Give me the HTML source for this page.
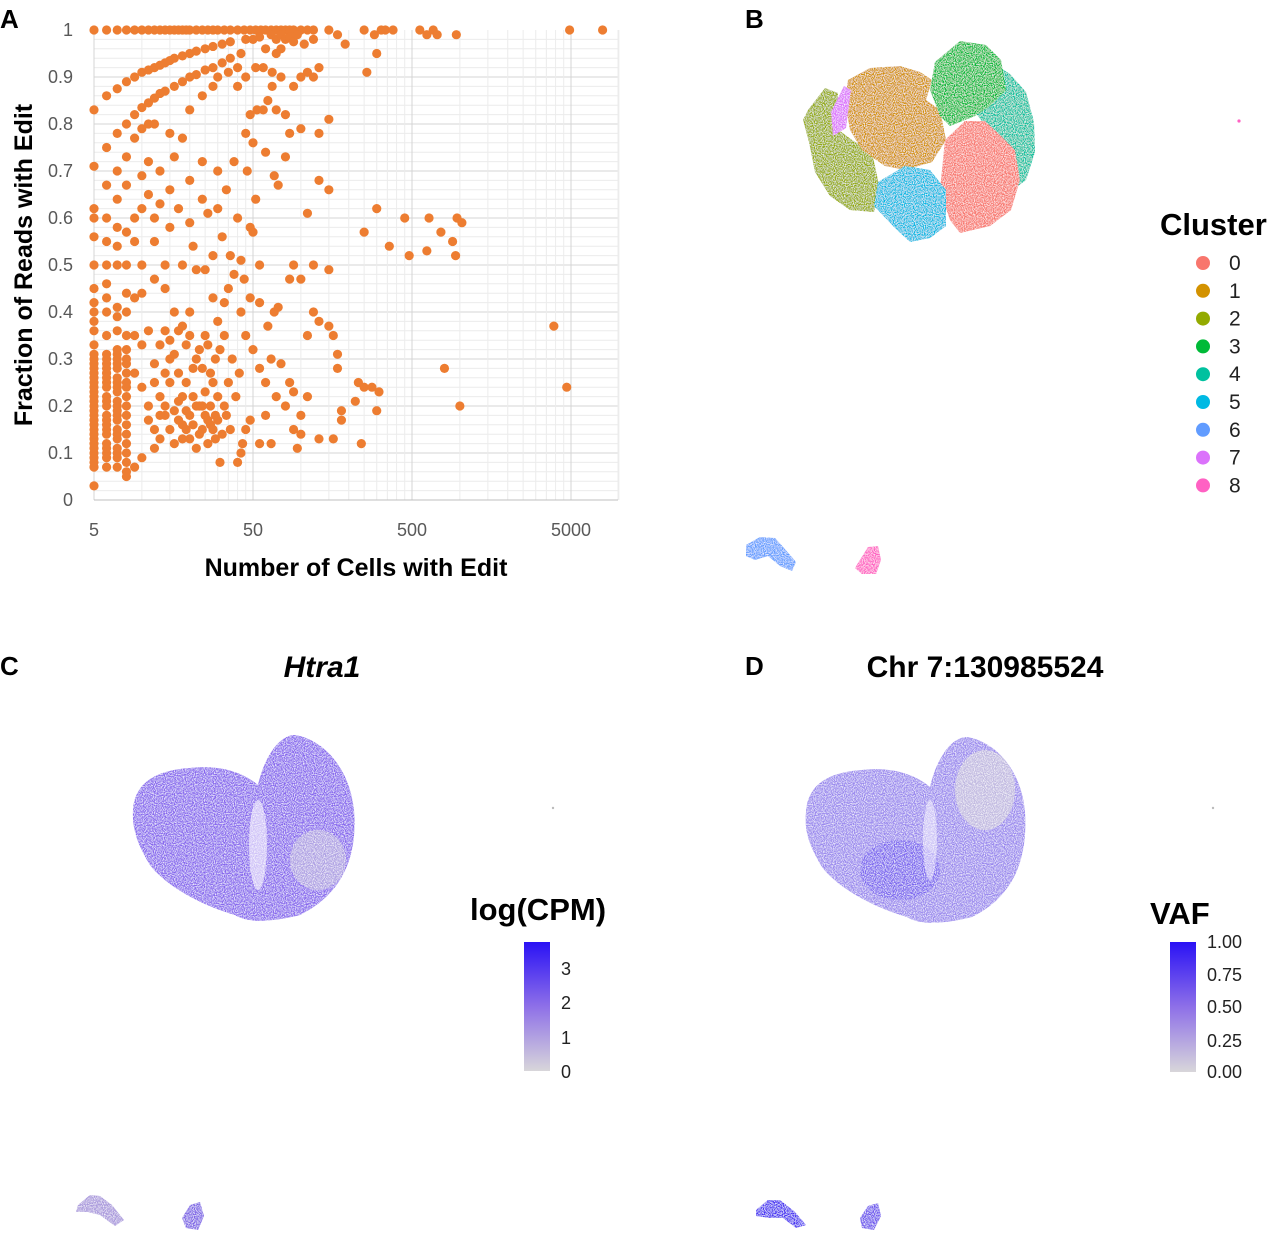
<!DOCTYPE html>
<html><head><meta charset="utf-8">
<style>
html,body{margin:0;padding:0;background:#fff;}
body{width:1280px;height:1238px;position:relative;overflow:hidden;font-family:"Liberation Sans","DejaVu Sans",sans-serif;}
svg{position:absolute;left:0;top:0;}
</style></head>
<body>
<svg id="fig" width="1280" height="1238" viewBox="0 0 1280 1238">
<defs>
<linearGradient id="gradC" x1="0" y1="0" x2="0" y2="1"><stop offset="0" stop-color="#2a12f5"/><stop offset="0.5" stop-color="#8e70e8"/><stop offset="1" stop-color="#d8d6da"/></linearGradient>
<filter id="speck" x="0" y="0" width="100%" height="100%"><feTurbulence type="fractalNoise" baseFrequency="0.9" numOctaves="1" seed="3" result="n"/><feColorMatrix in="n" type="matrix" values="0 0 0 0 1  0 0 0 0 1  0 0 0 0 1  0 0 0 -2.2 1.35" result="m"/><feComposite in="m" in2="SourceGraphic" operator="in" result="w"/><feMerge><feMergeNode in="SourceGraphic"/><feMergeNode in="w"/></feMerge></filter>
</defs>

<!-- Panel A -->
<g id="panelA">
<g id="gridA"></g>
<g id="dotsA"></g>
<g id="ticksA"></g>
<text x="0" y="28" font-size="26" font-weight="bold" fill="#000">A</text>
<text x="356" y="576" font-size="25" font-weight="bold" fill="#000" text-anchor="middle">Number of Cells with Edit</text>
<text transform="translate(32,265) rotate(-90)" font-size="25" font-weight="bold" fill="#000" text-anchor="middle">Fraction of Reads with Edit</text>
</g>

<!-- Panel B -->
<g id="panelB">
<text x="745" y="28" font-size="26" font-weight="bold">B</text>
<g filter="url(#speck)">
<path d="M808,110 L825,88 L838,93 L836,128 L852,140 L872,152 L880,190 L874,212 L850,210 L830,196 L815,172 L809,142 L803,120 Z" fill="#93AA00"/>
<path d="M848,80 L870,68 L900,66 L920,72 L932,80 L926,100 L940,110 L946,140 L932,162 L905,170 L885,166 L862,150 L850,130 L845,100 Z" fill="#D39200"/>
<path d="M831,112 L844,86 L851,90 L846,128 L833,136 Z" fill="#DB72FB"/>
<path d="M988,60 L1010,74 L1026,92 L1034,122 L1035,152 L1026,180 L1010,192 L1000,170 L990,132 L975,112 Z" fill="#00C19F"/>
<path d="M935,62 L960,41 L986,45 L1001,60 L1006,90 L990,106 L975,116 L950,126 L940,116 L930,90 Z" fill="#00BA38"/>
<path d="M945,140 L965,121 L985,121 L1000,135 L1015,150 L1020,180 L1011,210 L990,226 L960,233 L950,220 L940,190 Z" fill="#F8766D"/>
<path d="M878,182 L905,166 L930,170 L946,190 L946,226 L930,238 L910,242 L895,228 L874,206 Z" fill="#00B9E3"/>
<path d="M746,545 L760,537 L775,538 L784,548 L796,562 L792,571 L780,566 L768,556 L755,560 L746,556 Z" fill="#619CFF"/>
<path d="M858,563 L868,547 L878,546 L881,560 L876,574 L862,574 L855,568 Z" fill="#FF61C3"/>
</g>
<circle cx="1239" cy="121" r="1.6" fill="#FF61C3"/>
<text x="1160" y="235" font-size="31" font-weight="bold">Cluster</text>
<g id="legendB"></g>
</g>

<!-- Panel C -->
<g id="panelC">
<text x="0" y="675" font-size="26" font-weight="bold">C</text>
<text x="322" y="677" font-size="30" font-weight="bold" font-style="italic" text-anchor="middle">Htra1</text>
<g filter="url(#speck)">
<path d="M133,810 C135,780 160,770 190,768 C215,765 240,770 258,785 C265,755 280,735 295,735 C325,740 350,770 354,810 C358,860 340,895 300,915 C280,920 250,925 235,915 C200,905 165,885 150,865 C138,845 132,830 133,810 Z" fill="#8766ee"/>
<ellipse cx="318" cy="860" rx="28" ry="30" fill="#b7aee0" opacity="0.8"/>
<ellipse cx="258" cy="845" rx="9" ry="45" fill="#ffffff" opacity="0.6"/>
<path d="M78,1205 L90,1195 L100,1196 L112,1205 L124,1220 L115,1226 L100,1215 L88,1212 L76,1212 Z" fill="#a896dc"/>
<path d="M182,1218 L190,1205 L200,1202 L204,1216 L198,1230 L186,1228 Z" fill="#7d62e6"/>
</g>
<circle cx="553" cy="808" r="1.2" fill="#bbb"/>
<text x="470" y="920" font-size="31" font-weight="bold">log(CPM)</text>
<rect x="524" y="942" width="26" height="129" fill="url(#gradC)"/>
<g font-size="18" fill="#222">
<text x="561" y="975">3</text><text x="561" y="1009">2</text><text x="561" y="1044">1</text><text x="561" y="1078">0</text></g>
</g>

<!-- Panel D -->
<g id="panelD">
<text x="745" y="675" font-size="26" font-weight="bold">D</text>
<text x="985" y="677" font-size="30" font-weight="bold" text-anchor="middle">Chr 7:130985524</text>
<g filter="url(#speck)">
<path d="M806,812 C808,782 832,772 862,770 C887,767 912,772 930,787 C937,757 952,737 967,737 C997,742 1022,772 1025,812 C1028,862 1012,897 972,917 C952,922 922,927 907,917 C872,907 837,887 822,867 C810,847 804,832 806,812 Z" fill="#9a88ee"/>
<ellipse cx="985" cy="790" rx="30" ry="40" fill="#c9c4dc" opacity="0.8"/>
<ellipse cx="900" cy="870" rx="40" ry="30" fill="#5a3ef0" opacity="0.5"/>
<ellipse cx="930" cy="840" rx="7" ry="40" fill="#ffffff" opacity="0.5"/>
<path d="M756,1210 L768,1200 L780,1200 L795,1212 L806,1225 L796,1228 L783,1218 L770,1218 L756,1216 Z" fill="#4a30f2"/>
<path d="M860,1218 L868,1206 L878,1203 L881,1216 L874,1230 L862,1228 Z" fill="#6c52ee"/>
</g>
<circle cx="1213" cy="808" r="1.2" fill="#bbb"/>
<text x="1150" y="924" font-size="31" font-weight="bold">VAF</text>
<rect x="1170" y="942" width="26" height="130" fill="url(#gradC)"/>
<g font-size="18" fill="#222">
<text x="1207" y="948">1.00</text><text x="1207" y="981">0.75</text><text x="1207" y="1013">0.50</text><text x="1207" y="1047">0.25</text><text x="1207" y="1078">0.00</text></g>
</g>
</svg>

<script>
// ---- Panel A data ----
const xTickLabels = ["5","50","500","5000"];
const yTickLabels = ["0","0.1","0.2","0.3","0.4","0.5","0.6","0.7","0.8","0.9","1"];
// scattered points [cells, fraction]
const pointsA = [
[5,1],[6,1],[7,1],[8,1],[9,1],[10,1],[11,1],[12,1],[13,1],[14,1],[15,1],[16,1],[17,1],[18,1],[19,1],[20,1],[22,1],[24,1],[26,1],[28,1],[30,1],[33,1],[36,1],[40,1],[44,1],[48,1],[52,1],[56,1],[60,1],[65,1],[70,1],[75,1],[80,1],[85,1],[90,1],[100,1],[110,1],[120,1],[150,1],[170,0.99],[250,1],[290,0.99],[320,1],[340,1],[380,1],[560,1],[620,0.99],[680,1],[720,0.99],[950,0.99],[4900,1],[7900,1],
[65,0.99],[70,0.98],[75,0.99],[80,0.98],[85,0.985],[90,0.975],[95,0.99],[105,0.97],[120,0.98],[190,0.97],
[20,0.95],[22,0.955],[25,0.96],[28,0.965],[32,0.97],[36,0.975],[45,0.98],[50,0.98],[55,0.985],[60,0.96],[70,0.95],[75,0.96],[300,0.95],
[6,0.86],[7,0.875],[8,0.89],[9,0.9],[10,0.91],[11,0.915],[12,0.92],[13,0.925],[14,0.93],[15,0.935],[16,0.94],[18,0.945],
[7,0.78],[8,0.8],[9,0.82],[10,0.835],[11,0.845],[12,0.855],[13,0.865],[14,0.87],[16,0.88],[18,0.89],[20,0.9],[22,0.905],[25,0.915],[28,0.92],[32,0.93],[36,0.94],[42,0.95],
[5,0.83],[6,0.75],[7,0.7],[8,0.73],[9,0.77],[10,0.79],[11,0.8],[12,0.8],[15,0.78],[18,0.77],[20,0.83],[24,0.86],[28,0.88],[30,0.9],[35,0.91],[40,0.92],
[5,0.71],[5,0.62],[5,0.6],[5,0.56],[5,0.5],[5,0.45],[6,0.67],[6,0.6],[6,0.55],[6,0.5],[7,0.64],[7,0.58],[7,0.54],[7,0.5],[8,0.67],[8,0.57],[8,0.5],[9,0.6],[9,0.55],[10,0.69],[10,0.62],[10,0.5],[11,0.72],[11,0.65],[12,0.6],[12,0.55],[13,0.7],[13,0.63],[14,0.5],[15,0.66],[15,0.58],[16,0.73],[17,0.62],[18,0.5],[20,0.68],[20,0.59],[21,0.54],[22,0.49],[24,0.72],[24,0.64],[25,0.49],[26,0.61],[28,0.52],[30,0.7],[30,0.62],[32,0.56],[34,0.66],[36,0.52],[38,0.72],[40,0.6],[42,0.51],[44,0.47],[46,0.7],[48,0.58],[50,0.57],[52,0.64],[55,0.5],
[45,0.78],[48,0.82],[50,0.76],[53,0.83],[58,0.83],[62,0.85],[66,0.88],[70,0.83],[80,0.82],[85,0.78],[90,0.88],[60,0.74],[68,0.69],[72,0.67],[80,0.73],[40,0.88],[45,0.9],[52,0.92],[58,0.92],[66,0.91],[75,0.9],[100,0.9],[110,0.91],[120,0.9],[130,0.92],[130,0.78],[100,0.79],[110,0.61],[120,0.5],[130,0.68],[150,0.66],[150,0.49],[150,0.81],[90,0.5],[85,0.47],[100,0.47],[260,0.91],
[250,0.57],[300,0.62],[360,0.54],[450,0.6],[480,0.52],[620,0.53],[640,0.6],[760,0.57],[900,0.55],[960,0.6],[1030,0.59],[940,0.52],
[3900,0.37],[4700,0.24],[800,0.28],[1000,0.2],
[120,0.4],[150,0.37],[110,0.35],[130,0.38],[160,0.35],[170,0.31],[170,0.28],[230,0.25],[250,0.24],[220,0.21],[280,0.24],[310,0.23],[300,0.19],[180,0.19],[180,0.17],[240,0.12],[160,0.13],[130,0.13],[110,0.22],[100,0.18],[90,0.15],[80,0.2],[70,0.22],[60,0.25],[55,0.28],[65,0.3],[75,0.29],[85,0.25],[90,0.23],[95,0.11],[100,0.14],[65,0.12],[55,0.12],[60,0.18],[45,0.15],[48,0.17],[42,0.1],[40,0.08],[43,0.12],[50,0.32],[45,0.35],[42,0.4],[48,0.43],[55,0.42],[62,0.37],[68,0.4],[72,0.41],[35,0.45],[38,0.48],[33,0.42],[30,0.38],[28,0.43],[26,0.33],[24,0.28],[22,0.3],[20,0.35],[18,0.37],[16,0.4],[14,0.45],[12,0.47],[10,0.44],[9,0.43],[8,0.4],[11,0.36],[13,0.33],[15,0.3],[17,0.27],[19,0.25],[21,0.22],[23,0.2],[25,0.18],[27,0.16],[29,0.13],[31,0.08],[33,0.2],[35,0.25],[37,0.3],[39,0.22],[41,0.27],[36,0.15],[34,0.18],[30,0.22],[28,0.25],[26,0.12],[24,0.15],[22,0.11],[20,0.13],[18,0.16],[16,0.12],[14,0.18],[12,0.11],[10,0.09],[9,0.07],[8,0.08],[11,0.2],[13,0.22],[15,0.25],[17,0.17],[19,0.19],[21,0.28],[23,0.32],[25,0.35],[27,0.27],[29,0.3],[31,0.32],[33,0.35],[20,0.4],[18,0.22],[16,0.31],[14,0.27],[12,0.29],[10,0.33],[9,0.35],[8,0.3],
[14,0.2],[15,0.15],[16,0.19],[17,0.21],[18,0.13],[19,0.15],[20,0.18],[21,0.16],[22,0.2],[23,0.14],[24,0.2],[25,0.23],[26,0.17],[27,0.2],[28,0.15],[29,0.18],[30,0.17],[32,0.14],[12,0.15],[13,0.13],[11,0.17],[10,0.24],[9,0.27],[12,0.25],[13,0.18],[14,0.36],[15,0.34],[17,0.36],[19,0.33]
];
// dense integer columns at low cell counts
const columnCells = [5,6,7,8];
const columnFracs = [
[0.03,0.07,0.08,0.09,0.1,0.11,0.12,0.13,0.14,0.15,0.16,0.17,0.18,0.19,0.2,0.21,0.22,0.23,0.24,0.25,0.26,0.27,0.28,0.29,0.3,0.31,0.33,0.36,0.38,0.4,0.42],
[0.07,0.09,0.1,0.11,0.12,0.14,0.15,0.16,0.17,0.18,0.2,0.21,0.22,0.24,0.25,0.26,0.27,0.28,0.29,0.3,0.31,0.35,0.4,0.43,0.46],
[0.07,0.09,0.1,0.11,0.13,0.14,0.15,0.17,0.18,0.19,0.2,0.21,0.23,0.24,0.25,0.26,0.28,0.29,0.3,0.31,0.32,0.36,0.39,0.41],
[0.05,0.06,0.1,0.12,0.14,0.16,0.18,0.2,0.22,0.24,0.25,0.27,0.29,0.32,0.35,0.44]
];
// ---- Panel B legend ----
const clusterNames = ["0","1","2","3","4","5","6","7","8"];
const clusterColors = ["#F8766D","#D39200","#93AA00","#00BA38","#00C19F","#00B9E3","#619CFF","#DB72FB","#FF61C3"];

const NS="http://www.w3.org/2000/svg";
const X0=94, DEC=159, Y0=500, YH=470, XR=618;
function xs(v){return X0+DEC*Math.log10(v/5);}
function ys(v){return Y0-YH*v;}
function mk(tag,attrs,parent){const e=document.createElementNS(NS,tag);for(const k in attrs)e.setAttribute(k,attrs[k]);parent.appendChild(e);return e;}

const grid=document.getElementById('gridA');
for(let i=1;i<50;i++){const y=ys(i/50);
  const l=mk('line',{x1:X0,x2:XR,y1:y,y2:y,stroke:(i%5===0)?'#d4d4d4':'#ececec','stroke-width':1},grid);
  
  }
for(let d=0;d<4;d++){for(let m=1;m<=9;m++){const v=m*5*Math.pow(10,d);if(v>10000)break;const x=xs(v);
  const l=mk('line',{x1:x,x2:x,y1:ys(1),y2:Y0,stroke:m===1?'#d4d4d4':'#ececec','stroke-width':1},grid);
  
  }}
mk('line',{x1:XR,x2:XR,y1:ys(1),y2:Y0,stroke:'#ececec'},grid);
const ax=mk('line',{x1:X0,x2:XR,y1:Y0,y2:Y0,stroke:'#bfbfbf','stroke-width':1},grid);



const ticks=document.getElementById('ticksA');
xTickLabels.forEach(t=>{const e=mk('text',{x:xs(+t),y:536,'font-size':18,fill:'#595959','text-anchor':'middle'},ticks);e.textContent=t;
  
  });
yTickLabels.forEach(t=>{const e=mk('text',{x:73,y:ys(+t)+6,'font-size':18,fill:'#595959','text-anchor':'end'},ticks);e.textContent=t;
  
  });

const dots=document.getElementById('dotsA');
function dot(c,f){const e=mk('circle',{cx:xs(c),cy:ys(f),r:4.6,fill:'#ED7D31'},dots);
  
  }
pointsA.forEach(p=>dot(p[0],p[1]));
columnCells.forEach((c,i)=>columnFracs[i].forEach(f=>dot(c,f)));

const lg=document.getElementById('legendB');
clusterNames.forEach((n,i)=>{const y=263+i*27.8;
  const c=mk('circle',{cx:1203,cy:y,r:7,fill:clusterColors[i]},lg);
  
  
  const t=mk('text',{x:1229,y:y+7,'font-size':21,fill:'#222'},lg);t.textContent=n;
  
  });
</script>
</body></html>
